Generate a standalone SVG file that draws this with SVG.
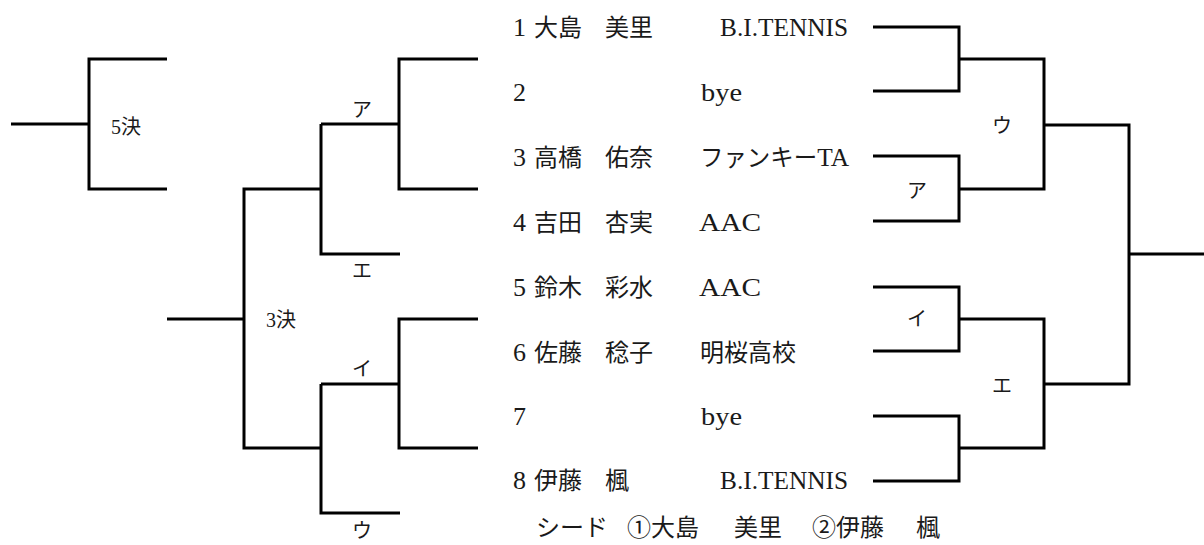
<svg xmlns="http://www.w3.org/2000/svg" width="1204" height="545" viewBox="0 0 1204 545">
<style>
.ln{fill:none;stroke:#000;stroke-width:3;stroke-linecap:butt;stroke-linejoin:miter}
.t{font-family:"Liberation Serif","Noto Sans CJK JP",serif;font-size:24px;fill:#1a1a1a}
.l{font-size:26px}
.s{font-family:"Liberation Serif","Noto Sans CJK JP",serif;font-size:20px;fill:#1a1a1a}
.m{text-anchor:middle}
</style>
<rect width="1204" height="545" fill="#fff"/>
<g id="connectors" class="ln">
<path d="M167,59 H89 V189 H167 M11,124 H89"/>
<path d="M167,319 H244 M321,189 H244 V448 H321"/>
<path d="M478,59 H399 V189 H478 M321,124 H399 M321,124 V254 H400"/>
<path d="M478,319 H399 V448 H478 M321,384 H399 M321,384 V513 H400"/>
<path d="M873,27 H959 V91 H873 M959,59 H1044 V189 H959 M873,156 H959 V221 H873"/>
<path d="M873,287 H959 V351 H873 M959,319 H1044 V448 H959 M873,416 H959 V481 H873"/>
<path d="M1044,125 H1129 V384 H1044 M1129,254 H1204"/>
</g>
<g id="p1"><text class="t" y="36"><tspan x="513" class="l">1</tspan><tspan x="534">大島</tspan><tspan x="605">美里</tspan></text><text class="t l" x="720" y="36" textLength="128" lengthAdjust="spacingAndGlyphs">B.I.TENNIS</text></g>
<g id="p2"><text class="t" y="101"><tspan x="513" class="l">2</tspan></text><text class="t l" x="701" y="101" textLength="41" lengthAdjust="spacingAndGlyphs">bye</text></g>
<g id="p3"><text class="t" y="166"><tspan x="513" class="l">3</tspan><tspan x="534">高橋</tspan><tspan x="605">佑奈</tspan></text><text class="t" x="700" y="166" textLength="149" lengthAdjust="spacingAndGlyphs">ファンキー<tspan class="l">TA</tspan></text></g>
<g id="p4"><text class="t" y="231"><tspan x="513" class="l">4</tspan><tspan x="534">吉田</tspan><tspan x="605">杏実</tspan></text><text class="t l" x="699" y="231" textLength="62" lengthAdjust="spacingAndGlyphs">AAC</text></g>
<g id="p5"><text class="t" y="296"><tspan x="513" class="l">5</tspan><tspan x="534">鈴木</tspan><tspan x="605">彩水</tspan></text><text class="t l" x="699" y="296" textLength="62" lengthAdjust="spacingAndGlyphs">AAC</text></g>
<g id="p6"><text class="t" y="361"><tspan x="513" class="l">6</tspan><tspan x="534">佐藤</tspan><tspan x="605">稔子</tspan></text><text class="t" x="700" y="361">明桜高校</text></g>
<g id="p7"><text class="t" y="425"><tspan x="513" class="l">7</tspan></text><text class="t l" x="701" y="425" textLength="41" lengthAdjust="spacingAndGlyphs">bye</text></g>
<g id="p8"><text class="t" y="489"><tspan x="513" class="l">8</tspan><tspan x="534">伊藤</tspan><tspan x="605">楓</tspan></text><text class="t l" x="720" y="489" textLength="128" lengthAdjust="spacingAndGlyphs">B.I.TENNIS</text></g>
<g id="labels">
<text class="s" x="111" y="134">5決</text>
<text class="s" x="266" y="327">3決</text>
<text class="s m" x="362" y="117">ア</text>
<text class="s m" x="362" y="278">エ</text>
<text class="s m" x="362" y="376">イ</text>
<text class="s m" x="362" y="538">ウ</text>
<text class="s m" x="1002" y="133">ウ</text>
<text class="s m" x="917" y="198">ア</text>
<text class="s m" x="917" y="326">イ</text>
<text class="s m" x="1002" y="393">エ</text>
</g>
<g id="seed"><text class="t" y="536"><tspan x="536">シード</tspan><tspan x="627">①大島</tspan><tspan x="734">美里</tspan><tspan x="812">②伊藤</tspan><tspan x="916">楓</tspan></text></g>
</svg>
